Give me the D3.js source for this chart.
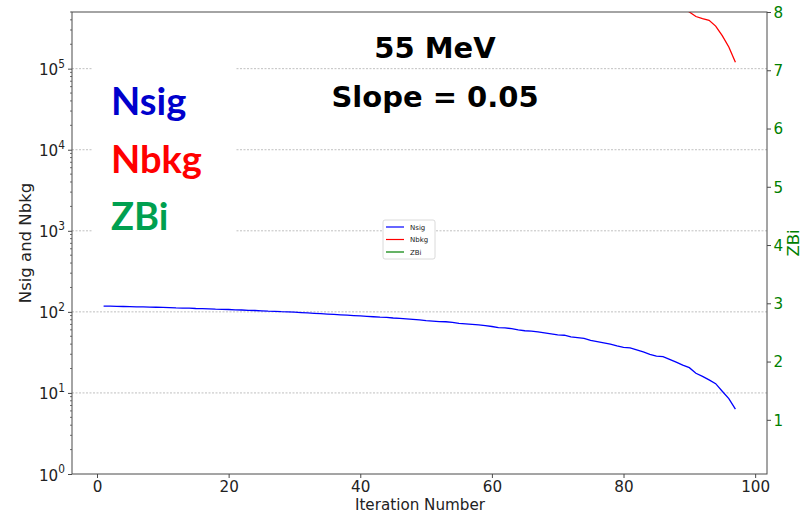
<!DOCTYPE html>
<html>
<head>
<meta charset="utf-8">
<script src="https://cdn.jsdelivr.net/npm/d3@7"></script>
<style>
  body { margin: 0; background: #fff; }
  svg { display: block; }
</style>
</head>
<body>
<svg id="chart" width="802" height="514"></svg>
<script>
// ---------------- data ----------------
const iterations = d3.range(1, 98); // 1..97
const nsigValues = [
  118, 117.5, 117, 116.5, 116, 115.5, 115, 114.5, 114, 113.5,
  113, 112, 111.5, 111, 110, 109.5, 109, 108, 107.5, 107,
  106, 105.5, 104.5, 104, 103, 102, 101.5, 100.5, 100, 99,
  98, 97, 96, 95, 94, 93, 92, 91, 90, 89,
  88, 87, 86, 85.5, 84, 83, 82, 81, 79.5, 78,
  77, 76, 75.5, 74, 72, 71, 70, 69, 67.5, 66,
  64, 63.5, 62, 60, 58.5, 58, 56.5, 55, 53.5, 52,
  51.5, 49, 48, 47, 44.5, 43, 41.5, 40, 38, 36.5,
  36, 34, 32, 30, 28.5, 28, 26, 24, 22, 20.5,
  17.5, 16, 14.5, 13, 10.5, 8.5, 6.3
];
const nbkgIterations = [88, 89, 90, 91, 92, 93, 94, 95, 96, 97];
const nbkgValues = [6.5e5, 5.7e5, 5.0e5, 4.4e5, 4.15e5, 3.95e5, 3.35e5, 2.55e5, 1.85e5, 1.2e5];
const zbiIterations = [1, 97];
const zbiValues = [0.02, 0.03];   // below the visible ZBi range
const leftTicks = [1, 10, 100, 1000, 10000, 100000];
const leftTickExps = ["0", "1", "2", "3", "4", "5"];
const rightTicks = [1, 2, 3, 4, 5, 6, 7, 8];
const xTicks = [0, 20, 40, 60, 80, 100];
const seriesNames = ["Nsig", "Nbkg", "ZBi"];
const seriesColors = ["#0000ff", "#ff0000", "#008000"];
const bigLabelColors = ["#0000cc", "#ff0000", "#00a050"];

// ---------------- layout ----------------
const svg = d3.select("#chart");
const L = 72, R = 767, T = 12, B = 474;
const axisColor = "#4a4a4a";
const FS = 16.5, SX = 0.92;

const x = d3.scaleLinear().domain([-3.8, 101.8]).range([L, R]);
const y = d3.scaleLog().domain([1, 5e5]).range([B, T]);
const y2 = d3.scaleLinear().domain([0.07, 8]).range([B, T]);

svg.append("defs").append("clipPath").attr("id", "clip")
  .append("rect").attr("x", L).attr("y", T).attr("width", R - L).attr("height", B - T);

// grid lines (left axis majors)
svg.append("g").selectAll("line").data(leftTicks.slice(1)).join("line")
  .attr("x1", L).attr("x2", R)
  .attr("y1", d => y(d)).attr("y2", d => y(d))
  .attr("stroke", "#b0b0b0").attr("stroke-width", 0.8)
  .attr("stroke-dasharray", "2,1.5");

// white text box over the grid
svg.append("rect").attr("x", 92).attr("y", 58).attr("width", 143).attr("height", 185).attr("fill", "#fff");

// lines
const plot = svg.append("g").attr("clip-path", "url(#clip)");
const lineL = d3.line().x(d => x(d[0])).y(d => y(d[1]));
plot.append("path")
  .datum(iterations.map((it, i) => [it, nsigValues[i]]))
  .attr("d", lineL).attr("fill", "none").attr("stroke", seriesColors[0]).attr("stroke-width", 1.3);
plot.append("path")
  .datum(nbkgIterations.map((it, i) => [it, nbkgValues[i]]))
  .attr("d", lineL).attr("fill", "none").attr("stroke", seriesColors[1]).attr("stroke-width", 1.3);
plot.append("path")
  .datum(zbiIterations.map((it, i) => [it, zbiValues[i]]))
  .attr("d", d3.line().x(d => x(d[0])).y(d => y2(d[1])))
  .attr("fill", "none").attr("stroke", seriesColors[2]).attr("stroke-width", 1.3);

// ---------------- axes ----------------
// bottom axis
const xAxis = d3.axisBottom(x).tickValues(xTicks).tickSize(4).tickPadding(2);
const gx = svg.append("g").attr("transform", `translate(0,${B})`).call(xAxis);
gx.select(".domain").remove();
gx.selectAll("line").attr("stroke", axisColor);
gx.selectAll("text").attr("font-family", "DejaVu Sans").attr("font-size", FS).attr("fill", "#222")
  .attr("transform", `scale(${SX},1)`);

// left axis (log, custom labels with superscripts)
const gy = svg.append("g").attr("transform", `translate(${L},0)`);
const yAxis = d3.axisLeft(y).tickValues(leftTicks).tickSize(4).tickFormat("");
gy.call(yAxis);
gy.select(".domain").remove();
gy.selectAll("line").attr("stroke", axisColor);
// minor ticks
const minor = [];
for (let e = 0; e < 6; e++) for (let m = 2; m <= 9; m++) { const v = m * Math.pow(10, e); if (v <= 5e5) minor.push(v); }
gy.append("g").selectAll("line").data(minor).join("line")
  .attr("x1", -2).attr("x2", 0).attr("y1", d => y(d)).attr("y2", d => y(d))
  .attr("stroke", axisColor).attr("stroke-width", 0.8);
const lbl = gy.append("g").selectAll("text").data(leftTicks).join("text")
  .attr("transform", d => `translate(-7,${y(d) + 6.5}) scale(${SX},1)`)
  .attr("text-anchor", "end")
  .attr("font-family", "DejaVu Sans").attr("font-size", FS).attr("fill", "#222");
lbl.each(function(d, i) {
  const t = d3.select(this);
  t.append("tspan").text("10");
  t.append("tspan").attr("dy", -7.5).attr("font-size", 11.5).text(leftTickExps[i]);
});

// right axis
const y2Axis = d3.axisRight(y2).tickValues(rightTicks).tickSize(4).tickPadding(3).tickFormat(d3.format("d"));
const gy2 = svg.append("g").attr("transform", `translate(${R},0)`).call(y2Axis);
gy2.select(".domain").remove();
gy2.selectAll("line").attr("stroke", axisColor);
gy2.selectAll("text").attr("font-family", "DejaVu Sans").attr("font-size", FS).attr("fill", "#008000")
  .attr("transform", `scale(${SX},1)`);

// frame
svg.append("rect").attr("x", L).attr("y", T).attr("width", R - L).attr("height", B - T)
  .attr("fill", "none").attr("stroke", axisColor).attr("stroke-width", 1);

// axis titles
svg.append("text").attr("transform", `translate(420,510) scale(${SX},1)`).attr("text-anchor", "middle")
  .attr("font-family", "DejaVu Sans").attr("font-size", FS).attr("fill", "#222").text("Iteration Number");
svg.append("text").attr("transform", `translate(31,${(T + B) / 2}) rotate(-90)`).attr("text-anchor", "middle")
  .attr("font-family", "DejaVu Sans").attr("font-size", FS).attr("fill", "#222").text("Nsig and Nbkg");
svg.append("text").attr("transform", `translate(799,${(T + B) / 2}) rotate(-90)`).attr("text-anchor", "middle")
  .attr("font-family", "DejaVu Sans").attr("font-size", FS).attr("fill", "#008000").text("ZBi");

// annotations
svg.append("text").attr("x", 435).attr("y", 58).attr("text-anchor", "middle")
  .attr("font-family", "DejaVu Sans").attr("font-weight", "bold").attr("font-size", 29).attr("fill", "#000").text("55 MeV");
svg.append("text").attr("x", 435).attr("y", 107).attr("text-anchor", "middle")
  .attr("font-family", "DejaVu Sans").attr("font-weight", "bold").attr("font-size", 29).attr("fill", "#000").text("Slope = 0.05");

const bigY = [115, 173, 230];
svg.append("g").selectAll("text").data(seriesNames).join("text")
  .attr("x", 111).attr("y", (d, i) => bigY[i])
  .attr("font-family", "Lato").attr("font-weight", "bold").attr("font-size", 38)
  .attr("fill", (d, i) => bigLabelColors[i]).text(d => d);

// legend
const lg = svg.append("g").attr("transform", "translate(383,220)");
lg.append("rect").attr("width", 52).attr("height", 39).attr("rx", 2)
  .attr("fill", "#fff").attr("stroke", "#d0d0d0").attr("stroke-width", 0.8);
const rows = lg.selectAll("g").data(seriesNames).join("g")
  .attr("transform", (d, i) => `translate(0,${7 + i * 12.5})`);
rows.append("line").attr("x1", 3).attr("x2", 21).attr("y1", 0).attr("y2", 0)
  .attr("stroke", (d, i) => seriesColors[i]).attr("stroke-width", 1.2);
rows.append("text").attr("x", 27).attr("y", 2.5)
  .attr("font-family", "DejaVu Sans").attr("font-size", 7).attr("fill", "#222").text(d => d);
</script>
</body>
</html>
